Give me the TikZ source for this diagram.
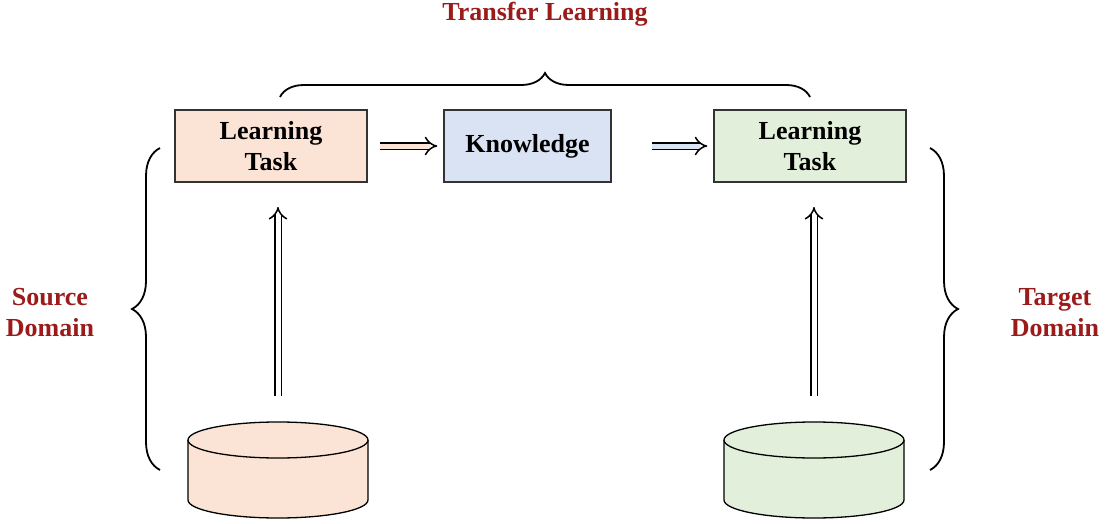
\documentclass[tikz,border=0pt]{standalone}
\usepackage{fontspec}
\setmainfont{Liberation Serif}
\usetikzlibrary{arrows.meta,decorations.pathreplacing}
\definecolor{peach}{HTML}{FBE3D6}
\definecolor{lblue}{HTML}{DAE3F3}
\definecolor{lgreen}{HTML}{E2EFDA}
\definecolor{dred}{HTML}{9B1B1B}
\begin{document}
\begin{tikzpicture}[x=1pt,y=-1pt,
  box/.style={draw=black!80,line width=1.5pt,minimum width=192pt,minimum height=72pt,font=\fontsize{26}{31}\selectfont\bfseries,align=center},
  harrow/.style={double=#1,double distance=5pt,line width=1.5pt,-{Implies[]},black},
  brc/.style={decorate,decoration={brace,amplitude=#1},line width=1.8pt},
  lbl/.style={text=dred,font=\fontsize{26}{31}\selectfont\bfseries,align=center}]
\useasboundingbox (0,0) rectangle (1105,524);
\node[box,fill=peach] (lt1) at (271,146) {Learning\\Task};
\node[box,fill=lblue,minimum width=167pt] (kn) at (527.5,146) {Knowledge};
\node[box,fill=lgreen] (lt2) at (810,146) {Learning\\Task};
\draw[harrow=peach] ([xshift=12pt]lt1.east) -- ([xshift=-6pt]kn.west);
\draw[harrow=lblue] ([xshift=40pt]kn.east) -- ([xshift=-6pt]lt2.west);
% cylinders
\foreach \n/\cx/\col in {db1/278/peach,db2/814/lgreen}{
  \draw[fill=\col,line width=1.3pt] (\cx-90,440) -- (\cx-90,500) arc[start angle=180,end angle=0,x radius=90,y radius=18] -- (\cx+90,440);
  \draw[fill=\col,line width=1.3pt] (\cx,440) ellipse[x radius=90,y radius=18];
  \coordinate (\n) at (\cx,396);
  \coordinate (\n t) at (\cx,207);
}
\draw[harrow=white] (db1) -- (db1t);
\draw[harrow=white] (db2) -- (db2t);
% braces
\coordinate (t1) at (280,97); \coordinate (t2) at (810,97);
\draw[brc=24pt] (t1) -- (t2);
\coordinate (l1) at (160,470); \coordinate (l2) at (160,148);
\draw[brc=28pt] (l1) -- (l2);
\coordinate (r1) at (930,148); \coordinate (r2) at (930,470);
\draw[brc=28pt] (r1) -- (r2);
\node[lbl] (tl) at (545,14) {Transfer Learning};
\node[lbl] (sd) at (50,313) {Source\\Domain};
\node[lbl] (td) at (1055,313) {Target\\Domain};
\end{tikzpicture}
\end{document}
